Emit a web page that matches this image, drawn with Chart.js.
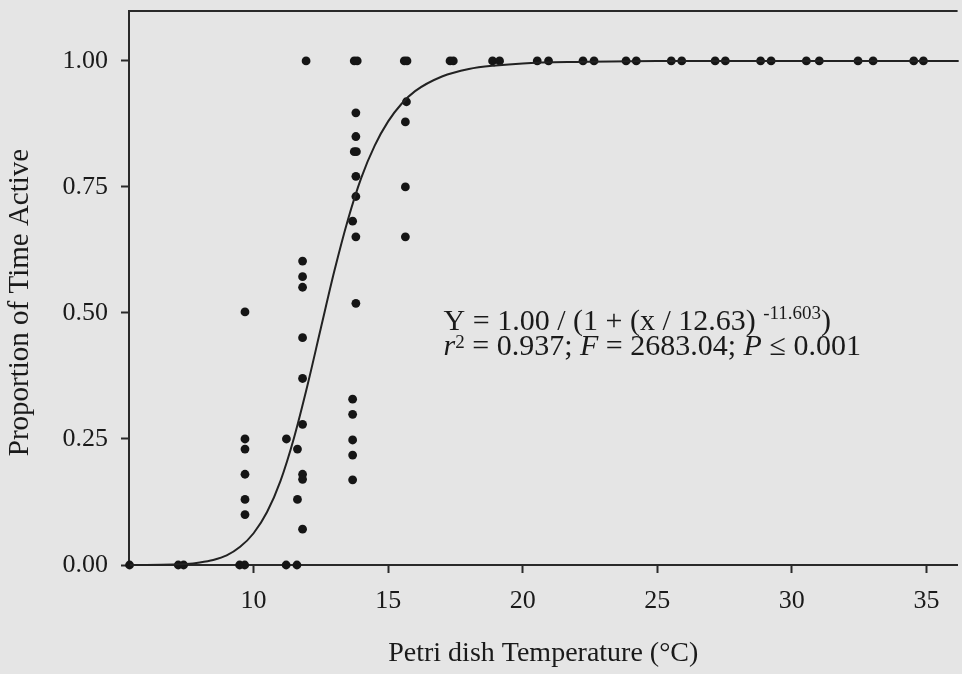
<!DOCTYPE html>
<html>
<head>
<meta charset="UTF-8" />
<title>Proportion of Time Active</title>
<script src="https://cdn.jsdelivr.net/npm/chart.js@4"></script>
<style>
  html, body { margin: 0; padding: 0; background: #e5e5e5; }
  #wrap { width: 962px; height: 674px; position: relative; }
</style>
</head>
<body>
<div id="wrap"><canvas id="chart"></canvas></div>
<script>
const xTicks = [10, 15, 20, 25, 30, 35];
const yTicks = [0, 0.25, 0.5, 0.75, 1];

// observations: temperature (x) and proportion of time active (y)
const tempX = [
  5.39, 7.2, 7.4, 9.48, 9.67, 11.21, 11.61,
  9.68, 9.68, 9.68, 9.68, 9.68, 9.68,
  11.22, 11.63, 11.63,
  11.82, 11.82, 11.82, 11.82, 11.82, 11.82, 11.82, 11.82, 11.82, 11.95,
  13.68, 13.68, 13.68, 13.68, 13.68, 13.68,
  13.74, 13.85, 13.8, 13.8, 13.74, 13.82, 13.8, 13.8, 13.8, 13.8,
  15.6, 15.7, 15.68, 15.64, 15.64, 15.64,
  17.3, 17.42, 18.88, 19.14, 20.54, 20.96, 22.24, 22.65, 23.84, 24.22,
  25.52, 25.91, 27.15, 27.53, 28.84, 29.23, 30.54, 31.02, 32.46, 33.02, 34.53, 34.89
];
const activeY = [
  0, 0, 0, 0, 0, 0, 0,
  0.502, 0.25, 0.23, 0.18, 0.13, 0.1,
  0.25, 0.23, 0.13,
  0.603, 0.572, 0.551, 0.451, 0.37, 0.279, 0.18, 0.17, 0.071, 1,
  0.682, 0.329, 0.299, 0.248, 0.218, 0.169,
  1, 1, 0.897, 0.85, 0.82, 0.82, 0.771, 0.731, 0.651, 0.519,
  1, 1, 0.919, 0.879, 0.75, 0.651,
  1, 1, 1, 1, 1, 1, 1, 1, 1, 1,
  1, 1, 1, 1, 1, 1, 1, 1, 1, 1, 1, 1
];

// fitted curve
const curveX = [5.4, 6, 7, 7.5, 8, 8.5, 9, 9.5, 10, 10.5, 11, 11.5, 12, 12.5, 13, 13.5, 14, 14.5, 15, 15.5, 16, 17, 18, 19, 20, 22, 25, 30, 36.2];
const curveY = [0.0001, 0.0002, 0.001, 0.002, 0.005, 0.01, 0.019, 0.036, 0.063, 0.105, 0.167, 0.252, 0.356, 0.47, 0.583, 0.684, 0.768, 0.832, 0.88, 0.915, 0.94, 0.969, 0.984, 0.991, 0.995, 0.998, 1, 1, 1];

const fontFamily = "'Liberation Serif', 'Times New Roman', serif";
const ink = '#1a1a1a';

const line1 = [
  { t: 'Y = 1.00 / (1 + (x / 12.63) ' },
  { t: '-11.603', sup: 11 },
  { t: ')' }
];
const line2 = [
  { t: 'r', it: true },
  { t: '2', sup: 7 },
  { t: ' = 0.937; ' },
  { t: 'F', it: true },
  { t: ' = 2683.04; ' },
  { t: 'P', it: true },
  { t: ' \u2264 0.001' }
];

function drawRich(ctx, parts, x, y) {
  ctx.textBaseline = 'alphabetic';
  ctx.textAlign = 'left';
  parts.forEach(p => {
    ctx.font = (p.it ? 'italic ' : '') + (p.sup ? '19px ' : '30px ') + fontFamily;
    ctx.fillText(p.t, x, p.sup ? y - p.sup : y);
    x += ctx.measureText(p.t).width;
  });
}

const frameAndText = {
  id: 'frameAndText',
  afterDraw(chart) {
    const { ctx, chartArea, scales } = chart;
    ctx.save();
    ctx.strokeStyle = '#2a2a2a';
    ctx.lineWidth = 2;
    ctx.beginPath();
    ctx.moveTo(chartArea.left, chartArea.top);
    ctx.lineTo(chartArea.right, chartArea.top);
    ctx.stroke();
    ctx.fillStyle = ink;
    const x0 = scales.x.getPixelForValue(17.06);
    drawRich(ctx, line1, x0, scales.y.getPixelForValue(0.467));
    drawRich(ctx, line2, x0, scales.y.getPixelForValue(0.417));
    ctx.restore();
  }
};

new Chart('chart', {
  type: 'scatter',
  data: {
    datasets: [
      {
        data: curveX.map((x, i) => ({ x: x, y: curveY[i] })),
        showLine: true,
        borderColor: '#222',
        borderWidth: 2,
        pointRadius: 0,
        cubicInterpolationMode: 'monotone',
        clip: false
      },
      {
        data: tempX.map((x, i) => ({ x: x, y: activeY[i] })),
        backgroundColor: '#151515',
        borderColor: '#151515',
        borderWidth: 0,
        pointRadius: 4.4,
        clip: false
      }
    ]
  },
  plugins: [frameAndText],
  options: {
    responsive: true,
    maintainAspectRatio: false,
    animation: false,
    layout: { padding: { top: 11, right: 0, left: 0, bottom: 0 } },
    plugins: { legend: { display: false }, tooltip: { enabled: false } },
    scales: {
      x: {
        type: 'linear',
        min: 5.37,
        max: 36.16,
        afterBuildTicks: s => { s.ticks = xTicks.map(v => ({ value: v })); },
        afterFit: s => { s.height = 109; s.paddingLeft = 0; s.paddingRight = 0; },
        grid: { drawOnChartArea: false, drawTicks: true, tickLength: 8, tickWidth: 2, tickColor: '#2a2a2a' },
        border: { display: true, color: '#2a2a2a', width: 2 },
        ticks: { color: ink, padding: 13, maxRotation: 0, font: { family: fontFamily, size: 26 } },
        title: {
          display: true,
          text: 'Petri dish Temperature (\u00B0C)',
          color: ink,
          font: { family: fontFamily, size: 28, lineHeight: 1.2 },
          padding: { top: 0, bottom: 4 }
        }
      },
      y: {
        type: 'linear',
        min: 0,
        max: 1.099,
        afterBuildTicks: s => { s.ticks = yTicks.map(v => ({ value: v })); },
        afterFit: s => { s.width = 129; s.paddingTop = 0; s.paddingBottom = 0; },
        grid: { drawOnChartArea: false, drawTicks: true, tickLength: 8, tickWidth: 2, tickColor: '#2a2a2a' },
        border: { display: true, color: '#2a2a2a', width: 2 },
        ticks: {
          color: ink,
          padding: 13,
          font: { family: fontFamily, size: 26 },
          callback: v => v.toFixed(2)
        },
        title: {
          display: true,
          text: 'Proportion of Time Active\u00A0\u00A0\u00A0\u00A0',
          color: ink,
          font: { family: fontFamily, size: 29, lineHeight: 1.2 },
          padding: { top: 3, bottom: 0 }
        }
      }
    }
  }
});
</script>
</body>
</html>
